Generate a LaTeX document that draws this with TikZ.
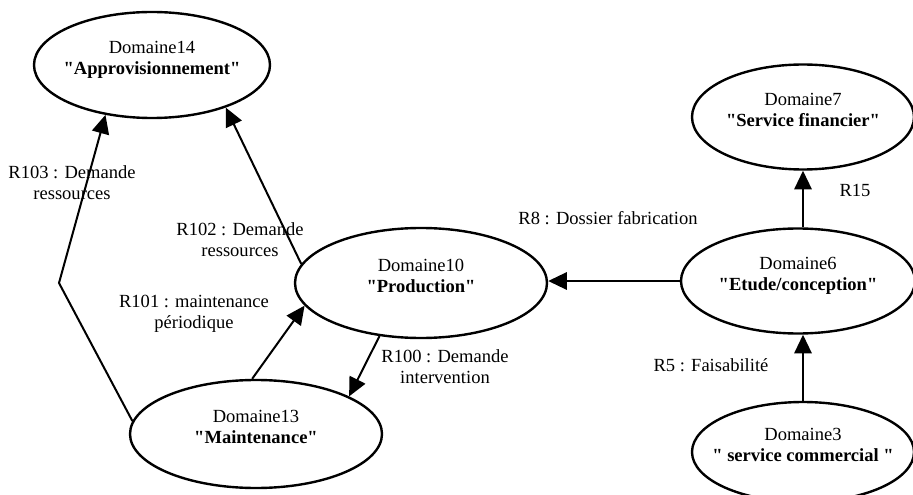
\documentclass[tikz,border=0pt]{standalone}
\usepackage{fontspec}
\setmainfont{Liberation Serif}
\usetikzlibrary{shapes.geometric,arrows.meta}
\newcommand{\dq}{\textquotedbl}
\tikzset{
  dom/.style={draw,ellipse,line width=1.8pt,inner xsep=-15pt,inner ysep=0pt,align=center,text depth=10pt},
  rel/.style={line width=1.5pt,-{Triangle[length=14pt,width=13pt]}},
  lab/.style={align=center,inner sep=0pt}
}
\begin{document}
\begin{tikzpicture}[x=0.75pt,y=-0.75pt,font=\fontsize{13.9}{15.75}\selectfont]
    \useasboundingbox (0,0) rectangle (913,495);
    % domaines
    \node [dom,minimum width=177pt,minimum height=79.5pt] (d14) at (152,65) {Domaine14\\\textbf{\dq Approvisionnement\dq}};
    \node [dom,minimum width=189pt,minimum height=82.5pt] (d10) at (421,283) {Domaine10\\\textbf{\dq Production\dq}};
    \node [dom,minimum width=189pt,minimum height=81pt] (d13) at (256,434) {Domaine13\\\textbf{\dq Maintenance\dq}};
    \node [dom,minimum width=175.5pt,minimum height=78.75pt] (d6) at (798,281) {Domaine6\\\textbf{\dq Etude/conception\dq}};
    \node [dom,minimum width=166.5pt,minimum height=78.75pt] (d7) at (803,117) {Domaine7\\\textbf{\dq Service financier\dq}};
    \node [dom,minimum width=166.5pt,minimum height=75pt] (d3) at (803,452) {Domaine3\\\textbf{\dq{} service commercial \dq}};
    % relations
    \coordinate (coude) at (59,283);
    \draw [rel] (d13.174) -- (coude) -- (d14.227);
    \draw [rel] (d10.171) -- (d14.330);
    \draw [rel] (d13.94) -- (d10.191);
    \draw [rel] (d10.232) -- (d13.22);
    \draw [rel] (d6.west) -- (d10.east |- d6.west);
    \draw [rel] (d6.north -| d7.south) -- (d7.south);
    \draw [rel] (d3.north) -- (d3.north |- d6.south);
    % lecter
    \node [lab] (l103) at (72,183) {R103 : Demande\\ressources};
    \node [lab] (l102) at (240,240) {R102 : Demande\\ressources};
    \node [lab] (l101) at (194,314) {R101 : maintenance\\périodique};
    \node [lab] (l100) at (445,367) {R100 : Demande\\intervention};
    \node [lab] (l8) at (608,218) {R8 : Dossier fabrication};
    \node [lab] (l15) at (855,190) {R15};
    \node [lab] (l5) at (711,365) {R5 : Faisabilité};
\end{tikzpicture}
\end{document}
